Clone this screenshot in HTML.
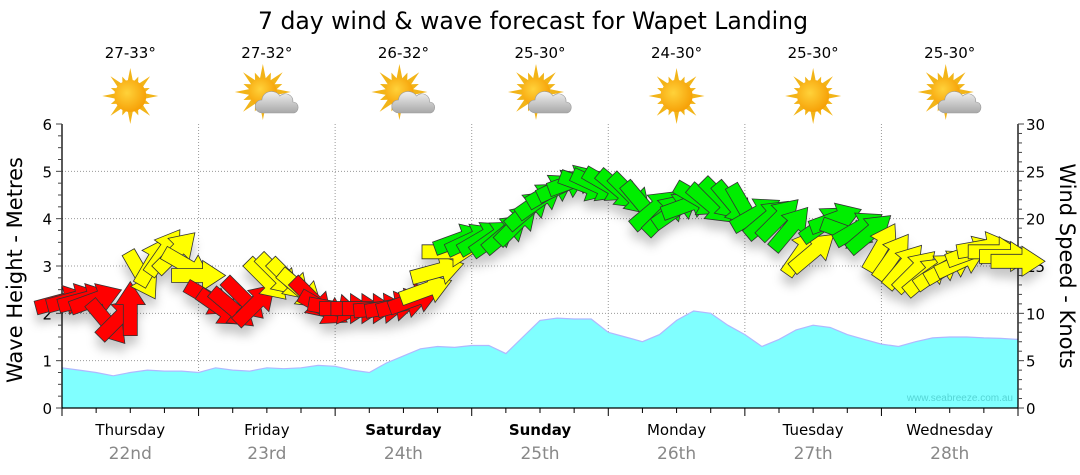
<!DOCTYPE html>
<html><head><meta charset="utf-8"><style>
html,body{margin:0;padding:0;background:#fff;}
svg{display:block;font-family:"DejaVu Sans","Liberation Sans",sans-serif;}
</style></head><body>
<svg id="chart" width="1080" height="475" viewBox="0 0 1080 475" xmlns="http://www.w3.org/2000/svg">
<defs>
<filter id="sh" x="-50%" y="-50%" width="200%" height="250%"><feDropShadow dx="0" dy="9" stdDeviation="5" flood-color="#000" flood-opacity="0.22"/></filter>
<radialGradient id="sunG" cx="0.4" cy="0.4" r="0.7"><stop offset="0" stop-color="#ffd23a"/><stop offset="1" stop-color="#f59a00"/></radialGradient>
<linearGradient id="cloudG" x1="0" y1="0" x2="0" y2="1"><stop offset="0" stop-color="#f0f0f0"/><stop offset="1" stop-color="#a8a8a8"/></linearGradient>
</defs>
<text x="533" y="29" font-size="24" text-anchor="middle" textLength="550" lengthAdjust="spacingAndGlyphs" fill="#000">7 day wind &amp; wave forecast for Wapet Landing</text>
<g id="grid"></g>
<g id="wave"></g>
<text x="1013" y="401" font-size="10" text-anchor="end" fill="#55d5d5" font-family="Liberation Sans, sans-serif">www.seabreeze.com.au</text>
<g id="axes"></g>
<g id="arrows" filter="url(#sh)"></g>
<g id="header"></g>
<text transform="translate(22,270) rotate(-90)" font-size="21" text-anchor="middle" fill="#000">Wave Height - Metres</text>
<text transform="translate(1060,266) rotate(90)" font-size="21" text-anchor="middle" fill="#000">Wind Speed - Knots</text>
</svg>
<script>
const days = ["Thursday","Friday","Saturday","Sunday","Monday","Tuesday","Wednesday"];
const dates = ["22nd","23rd","24th","25th","26th","27th","28th"];
const boldDays = [false,false,true,true,false,false,false];
const temps = ["27-33°","27-32°","26-32°","25-30°","24-30°","25-30°","25-30°"];
const cloudy = [false,true,true,true,false,false,true];
const waveTicks = [0,1,2,3,4,5,6];
const windTicks = [0,5,10,15,20,25,30];
// wave height (m), 3-hourly
const waveHeights = [0.85,0.8,0.75,0.68,0.75,0.8,0.78,0.78,
 0.75,0.85,0.8,0.78,0.85,0.83,0.85,0.9,
 0.88,0.8,0.75,0.95,1.1,1.25,1.3,1.28,
 1.32,1.32,1.15,1.5,1.85,1.9,1.88,1.88,
 1.6,1.5,1.4,1.55,1.85,2.05,2.0,1.75,
 1.55,1.3,1.45,1.65,1.75,1.7,1.55,1.45,
 1.35,1.3,1.4,1.48,1.5,1.5,1.48,1.47,1.45];
// wind speed (knots), 2-hourly
const windSpeeds = [11.3,11.5,11.5,11.5,9,9.5,10.5,14,15.5,16.5,16.5,15,
 14,11.5,10.5,10.5,11.5,11,13.5,14,13.5,12.5,11.5,10.5,
 10.5,10.5,10.5,10.5,10.5,10.7,11,11.5,12.5,14.5,16.5,17.8,
 17.8,18,18,18.5,19.5,21,22,23,23.5,24,23.5,23.5,
 23.5,23,22.5,21.5,21,20.5,21,21.5,22,21.5,22,21.5,
 21,20.5,20,20,19,16.5,16.5,19.5,20,18.5,19,18.5,
 17,16,15,14.5,14,14.5,15,15.5,16.5,17,16.5,16,15.5];
// arrow direction (deg, 0 = pointing right, positive = up)
const windDirs = [15,15,15,20,-50,45,90,-60,60,55,45,-30,
 0,-30,-35,-40,-45,45,-45,-45,-45,-40,-45,-30,
 -10,0,0,0,5,10,15,20,20,15,0,20,
 25,30,35,40,45,40,35,30,25,20,-20,-25,
 -30,-40,-45,-50,40,45,35,20,-30,-40,-45,-50,
 -60,30,40,45,50,55,40,35,20,-20,30,40,
 60,55,50,45,40,35,30,25,20,10,0,0,0];

const NS="http://www.w3.org/2000/svg";
const X0=62,X1=1018,Y0=408,Y1=124;
const dayW=(X1-X0)/7;
const yM=v=>Y0-(v/6)*(Y0-Y1);
const yK=v=>Y0-(v/30)*(Y0-Y1);
const xH=h=>X0+(h/168)*(X1-X0);
function mk(tag,attrs,parent){const e=document.createElementNS(NS,tag);for(const k in attrs)e.setAttribute(k,attrs[k]);parent.appendChild(e);return e;}
const grid=document.getElementById('grid'),axes=document.getElementById('axes'),wave=document.getElementById('wave'),arrows=document.getElementById('arrows'),header=document.getElementById('header');

for(const t of waveTicks){ if(t===0||t===6)continue;
 const l=mk('line',{x1:X0,x2:X1,y1:yM(t),y2:yM(t),stroke:'#999','stroke-dasharray':'1,2','stroke-width':1},grid);
  }
for(let d=1;d<7;d++){const x=X0+d*dayW;
 const l=mk('line',{x1:x,x2:x,y1:Y1,y2:Y0,stroke:'#999','stroke-dasharray':'1,2','stroke-width':1},grid);
  }

let d=`M${X0},${Y0}`;
waveHeights.forEach((v,i)=>{d+=` L${xH(i*3).toFixed(1)},${yM(v).toFixed(1)}`;});
d+=` L${X1},${Y0} Z`;
const wa=mk('path',{d:d,fill:'#80ffff',stroke:'none'},wave);
 
let dl='';waveHeights.forEach((v,i)=>{dl+=(i?' L':'M')+xH(i*3).toFixed(1)+','+yM(v).toFixed(1);});
const wl=mk('path',{d:dl,fill:'none',stroke:'#b0b8ff','stroke-width':1.2},wave);
 

const ax=mk('path',{d:`M${X0},${Y1} V${Y0} H${X1} V${Y1}`,fill:'none',stroke:'#000','stroke-width':1.3},axes);
 
for(let v=0;v<=6.001;v+=0.25){const y=yM(v);const major=Math.abs(v-Math.round(v))<0.01;
 mk('line',{x1:X0-(major?6:4),x2:X0,y1:y,y2:y,stroke:'#444','stroke-width':1},axes);}
for(const t of waveTicks){const tx=mk('text',{x:X0-10,y:yM(t)+6,'font-size':15,'text-anchor':'end',fill:'#000'},axes);tx.textContent=t;
  }
for(let v=0;v<=30;v++){const y=yK(v);const major=v%5===0;
 mk('line',{x1:X1,x2:X1+(major?6:4),y1:y,y2:y,stroke:'#444','stroke-width':1},axes);}
for(const t of windTicks){const tx=mk('text',{x:X1+8,y:yK(t)+6,'font-size':15,'text-anchor':'start',fill:'#000'},axes);tx.textContent=t;
  }
for(let h=0;h<=168;h+=6){const x=xH(h);const major=h%24===0;
 mk('line',{x1:x,x2:x,y1:Y0,y2:Y0+(major?8:5),stroke:'#000','stroke-width':1},axes);}
days.forEach((n,i)=>{const cx=X0+(i+0.5)*dayW;
 const t=mk('text',{x:cx,y:435,'font-size':15,'text-anchor':'middle',fill:'#000','font-weight':boldDays[i]?'bold':'normal'},axes);t.textContent=n;
  
 const t2=mk('text',{x:cx,y:459,'font-size':17,'text-anchor':'middle',fill:'#888'},axes);t2.textContent=dates[i];
  
});

temps.forEach((tt,i)=>{const cx=X0+(i+0.5)*dayW;
 const t=mk('text',{x:cx,y:58,'font-size':15,'text-anchor':'middle',fill:'#000'},header);t.textContent=tt;
  
 const g=mk('g',{transform:`translate(${cx},${cloudy[i]?93:96})`},header);
  
 const sx=cloudy[i]?-4:0, sy=cloudy[i]?-1:0;
 for(let k=0;k<16;k++){const a=k*Math.PI/8;const L=k%2?21:28;
  const c=Math.cos(a),s=Math.sin(a),px=-s,py=c;
  mk('polygon',{points:`${sx+c*13+px*3},${sy+s*13+py*3} ${sx+c*L},${sy+s*L} ${sx+c*13-px*3},${sy+s*13-py*3}`,fill:'#f2b418'},g);}
 mk('circle',{cx:sx,cy:sy,r:cloudy[i]?14:16,fill:'url(#sunG)'},g);
 if(cloudy[i]){
  mk('path',{d:'M-4,20 C-14,20 -14,7 -5,7 C-4,-3 9,-4 13,3 C18,-2 27,2 26,9 C33,9 33,20 26,20 Z',fill:'url(#cloudG)',stroke:'#999','stroke-width':0.6},g);
 }
});

function arrowPts(){return [[-27,-7],[4,-7],[4,-15],[27,0],[4,15],[4,7],[-27,7]];}
windSpeeds.forEach((s,i)=>{
 const x=xH(i*2), y=yK(s), a=windDirs[i];
 const col = s<12 ? '#ff0000' : (s<17.5 ? '#ffff00' : '#00ee00');
 const p=mk('polygon',{points:arrowPts().map(q=>q.join(',')).join(' '),fill:col,stroke:'#333','stroke-width':0.8,
  transform:`translate(${x.toFixed(1)},${y.toFixed(1)}) rotate(${-a})`},arrows);
  
});
</script>
</body></html>
